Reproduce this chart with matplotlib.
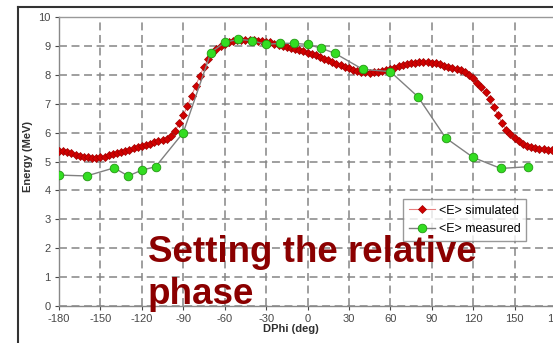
import numpy as np
import matplotlib
matplotlib.use('Agg')
import matplotlib.pyplot as plt
from matplotlib.lines import Line2D

plt.rcParams['font.family'] = ['Liberation Sans', 'DejaVu Sans']
plt.rcParams['axes.unicode_minus'] = False

# simulated <E> (every 3 deg)
sim_x = list(range(-180, 181, 3))
sim_y = [5.38, 5.35, 5.32, 5.28, 5.24, 5.20, 5.17, 5.15, 5.13, 5.13,
         5.14, 5.17, 5.21, 5.25, 5.29, 5.33, 5.37, 5.41, 5.45, 5.50,
         5.54, 5.58, 5.62, 5.66, 5.70, 5.73, 5.78, 5.87, 6.05, 6.32,
         6.60, 6.92, 7.27, 7.62, 7.96, 8.28, 8.54, 8.76, 8.90, 9.00,
         9.08, 9.13, 9.17, 9.20, 9.21, 9.22, 9.21, 9.20, 9.18, 9.16,
         9.14, 9.12, 9.08, 9.03, 8.98, 8.95, 8.92, 8.89, 8.86, 8.82,
         8.77, 8.72, 8.67, 8.61, 8.56, 8.51, 8.45, 8.39, 8.33, 8.27,
         8.22, 8.17, 8.13, 8.10, 8.08, 8.07, 8.08, 8.10, 8.13, 8.17,
         8.20, 8.25, 8.30, 8.34, 8.37, 8.40, 8.42, 8.43, 8.44, 8.43,
         8.42, 8.40, 8.37, 8.32, 8.27, 8.23, 8.19, 8.15, 8.08, 8.00,
         7.88, 7.73, 7.57, 7.39, 7.15, 6.88, 6.60, 6.32, 6.10, 5.95,
         5.80, 5.70, 5.62, 5.55, 5.50, 5.46, 5.43, 5.42, 5.41, 5.40,
         5.40]

# measured <E>
meas_x = [-180, -160, -140, -130, -120, -110, -90, -70, -60, -50, -40, -30,
          -20, -10, 0, 10, 20, 40, 60, 80, 100, 120, 140, 160]
meas_y = [4.53, 4.50, 4.78, 4.50, 4.70, 4.82, 6.00, 8.77, 9.12, 9.23, 9.18, 9.05,
          9.09, 9.09, 9.05, 8.92, 8.74, 8.19, 8.11, 7.24, 5.82, 5.14, 4.76, 4.82]

x_ticks = list(range(-180, 181, 30))
y_ticks = list(range(0, 11))

W, H = 553, 343
fig = plt.figure(figsize=(W / 100, H / 100), dpi=100)
fig.patch.set_facecolor('white')

# axes placed in pixel units
l, r, t, b = 59, 556, 17, 306
ax = fig.add_axes([l / W, (H - b) / H, (r - l) / W, (b - t) / H])

ax.plot(sim_x, sim_y, color='#e88080', lw=0.8, marker='D', ms=4.2,
        mfc='#d00000', mec='#a00000', mew=0.5, label='<E> simulated', zorder=3)
ax.plot(meas_x, meas_y, color='#808080', lw=1.0, marker='o', ms=6.2,
        mfc='#33dd22', mec='#229911', mew=0.6, label='<E> measured', zorder=4)

ax.set_xlim(-180, 180)
ax.set_ylim(0, 10)
ax.set_xticks(x_ticks)
ax.set_yticks(y_ticks)
ax.grid(True, color='#858585', ls=(0, (5.2, 3)), lw=1.1)
ax.set_axisbelow(True)
ax.tick_params(labelsize=8, colors='#484848', length=3, width=0.8, pad=3)
for s in ax.spines.values():
    s.set_color('#999999')
    s.set_linewidth(1.0)
ax.spines['left'].set_color('#888888')
ax.spines['bottom'].set_color('#888888')

ax.set_xlabel('DPhi (deg)', fontsize=8, fontweight='bold', color='#303030')
ax.xaxis.set_label_coords((291 - l) / (r - l), -(329 - b) / (b - t))
ax.xaxis.label.set_va('center')
ax.set_ylabel('Energy (MeV)', fontsize=8, fontweight='bold', color='#303030')
ax.yaxis.set_label_coords(-(l - 28) / (r - l), (b - 157) / (b - t))
ax.yaxis.label.set_va('center')

leg = ax.legend(loc='upper left', bbox_to_anchor=(403 / W, 1 - 199 / H),
                bbox_transform=fig.transFigure, borderaxespad=0, fontsize=9,
                frameon=True, fancybox=False, edgecolor='#808080',
                handlelength=2.1, labelspacing=0.55, borderpad=0.45,
                handletextpad=0.3)
leg.get_frame().set_linewidth(1.0)
leg.set_zorder(5)

# outer chart frame
fig.add_artist(Line2D([18 / W, 1.0], [1 - 7 / H, 1 - 7 / H], color='#333333', lw=1.5))
fig.add_artist(Line2D([18 / W, 18 / W], [0, 1 - 7 / H], color='#333333', lw=1.5))

# slide caption
fig.text(148 / W, 1 - 262 / H, 'Setting the relative', fontsize=26.5,
         fontweight='bold', color='#8b0000', va='baseline', ha='left', zorder=10)
fig.text(148 / W, 1 - 303.5 / H, 'phase', fontsize=26.5,
         fontweight='bold', color='#8b0000', va='baseline', ha='left', zorder=10)

fig.savefig('out.png', dpi=100)
